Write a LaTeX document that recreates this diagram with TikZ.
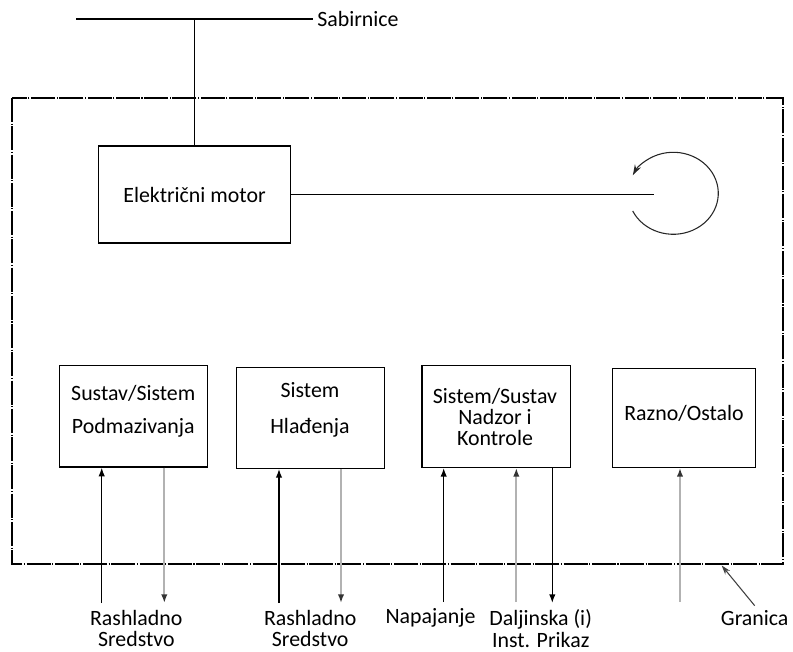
\documentclass[tikz,border=0pt]{standalone}
\usepackage{fontspec}
\setmainfont{Carlito}
\usepackage{tikz}
\usetikzlibrary{
  arrows.meta
}
\newcommand{\tightfont}{\fontsize{16.4}{15.75}\selectfont\lineskiplimit=-20pt\relax\lineskip=0pt\relax}

\begin{document}
\begin{tikzpicture}[
          x=0.75pt,y=0.75pt,
          every node/.style={
              font=\tightfont
            },
          line/.style={
              line width=1pt
            },
          boundary/.style={
              line width=1pt,
              dash pattern=on 18pt off 1.2pt on 0.8pt off 1.2pt
            },
          unit/.style 2 args={
              draw,
              line width=1pt,
              minimum width=#1,
              minimum height=#2,
              inner sep=0pt
            },
          inflow/.style={
              line width=1pt,
              -{Latex[length=6.5pt,width=4.8pt]}
            },
          greyflow/.style={
              line width=1.5pt,
              black!30,
              -{Latex[length=6.5pt,width=4.8pt,color=black!80]}
            },
          rot/.style={
              line width=0.8pt,
              black!85,
              -{Stealth[length=8pt,width=5pt]}
            },
          pointer/.style={
              line width=0.8pt,
              black!75,
              -{Stealth[length=7pt,width=4.5pt]}
            }
        ]
        \useasboundingbox (0,0) rectangle (793,-652);

        % sabirnice
        \coordinate (busL) at (76,-19);
        \node[anchor=west,inner xsep=3pt,inner ysep=0pt] (sabirnice) at (313,-19) {Sabirnice};
        \draw[line] (busL) -- (sabirnice.west);

        % granica
        \draw[boundary] (12,-98) rectangle (783,-564);

        % motor i vratilo
        \node[unit={144pt}{72.75pt}] (motor) at (194.5,-194.5) {Električni motor};
        \draw[line] (motor.north) -- (motor.north |- busL);
        \coordinate (shaftEnd) at (654,-195);
        \draw[line] (motor.east) -- (motor.east -| shaftEnd);
        \draw[rot] (632.7,-211) arc[start angle=205.6, end angle=514, x radius=45, y radius=41];

        % podsustavi
        \node[unit={111pt}{76pt}] (lube) at (133.3,-416.3) {};
        \node[align=center] (lubeText) at (133.3,-411.5) {Sustav/Sistem\\[9pt]Podmazivanja};
        \node[unit={111pt}{75.75pt}] (cool) at (310.3,-417.8) {};
        \node[align=center] (coolText) at (310,-409.5) {Sistem\\[11.25pt]Hlađenja};
        \node[unit={111.2pt}{76.2pt}] (ctrl) at (496.2,-416.5) {};
        \node[align=center] (ctrlText) at (495,-416.5) {Sistem/Sustav\\Nadzor i\\Kontrole};
        \node[unit={107.25pt}{74.25pt}] (misc) at (683.8,-417.8) {};
        \node (miscText) at (684,-413.7) {Razno/Ostalo};

        % vanjske oznake
        \node[align=center] (coolant1) at (136.3,-628.5) {Rashladno\\Sredstvo};
        \node[align=center] (coolant2) at (310.2,-628.5) {Rashladno\\Sredstvo};
        \node (supply) at (430.5,-617.7) {Napajanje};
        \node[align=center] (remote) at (540.7,-628.5) {Daljinska (i)\\[0.75pt]Inst. Prikaz};
        \node (granica) at (754.7,-618) {Granica};

        % tokovi
        \coordinate (lubeIn) at (101.7,-603);
        \coordinate (lubeOut) at (164.3,-603);
        \draw[inflow] (lubeIn) -- (lubeIn |- lube.south);
        \draw[greyflow] (lubeOut |- lube.south) -- (lubeOut);
        \coordinate (coolIn) at (279,-603);
        \coordinate (coolOut) at (341,-603);
        \draw[inflow] (coolIn) -- (coolIn |- cool.south);
        \draw[greyflow] (coolOut |- cool.south) -- (coolOut);
        \coordinate (supplyIn) at (443.7,-602);
        \coordinate (remoteIn) at (516.3,-602);
        \coordinate (remoteOut) at (552.3,-603);
        \draw[inflow] (supplyIn) -- (supplyIn |- ctrl.south);
        \draw[greyflow] (remoteIn) -- (remoteIn |- ctrl.south);
        \draw[inflow] (remoteOut |- ctrl.south) -- (remoteOut);
        \coordinate (miscIn) at (680,-602);
        \draw[greyflow] (miscIn) -- (miscIn |- misc.south);

        % pokazivac granice
        \coordinate (granicaTip) at (721.7,-565.5);
        \draw[pointer] (granica.north) -- (granicaTip);

      \end{tikzpicture}
\end{document}
